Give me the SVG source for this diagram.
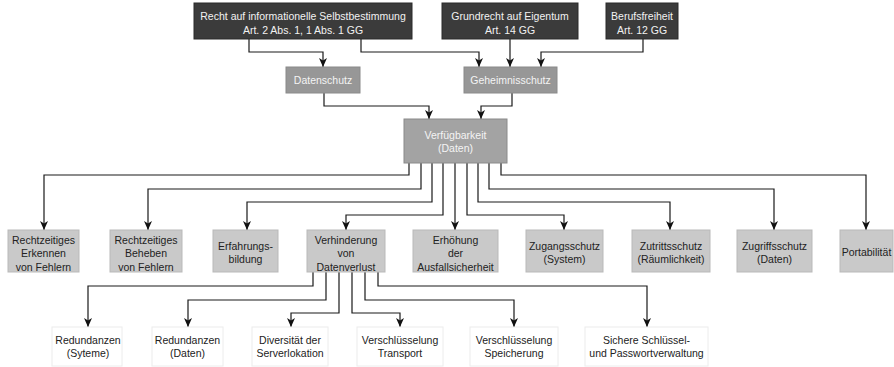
<svg xmlns="http://www.w3.org/2000/svg" width="894" height="367" viewBox="0 0 894 367">
<defs>
<marker id="ah" markerUnits="userSpaceOnUse" markerWidth="10" markerHeight="10" viewBox="0 0 10 10" refX="9" refY="5" orient="auto">
<path d="M0,1 L9,5 L0,9 L2.5,5 Z" fill="#111"/>
</marker>
<style>
text{font-family:"Liberation Sans",Arial,sans-serif;font-size:10.5px;text-anchor:middle;dominant-baseline:central}
.top rect{fill:#3b3b3b;stroke:#2a2a2a}
.top text{fill:#f2f2f2}
.mid rect{fill:#979797;stroke:#8a8a8a}
.mid text{fill:#f4f4f4}
.l2 rect{fill:#c9c9c9;stroke:#b9b9b9}
.l2 text{fill:#222}
.l3 rect{fill:#fff;stroke:#ececec}
.l3 text{fill:#222}
#connectors path{fill:none;stroke:#1a1a1a;stroke-width:1.2;marker-end:url(#ah)}
</style>
</defs>
<rect width="894" height="367" fill="#fff"/>
<g id="connectors">
<path d="M249,39 V52 H323 V67"/>
<path d="M361,39 V52 H479 V67"/>
<path d="M510,39 V67"/>
<path d="M643,39 V52 H541 V67"/>
<path d="M324,93 V106 H429 V119"/>
<path d="M512,93 V106 H481 V119"/>
<path d="M409,163 V175 H44 V230"/>
<path d="M421,163 V189 H148 V230"/>
<path d="M432,163 V202 H247 V230"/>
<path d="M443,163 V215 H346 V230"/>
<path d="M455,163 V230"/>
<path d="M467,163 V215 H564 V230"/>
<path d="M478,163 V202 H670 V230"/>
<path d="M489,163 V189 H774 V230"/>
<path d="M501,163 V175 H866 V230"/>
<path d="M313,272 V286 H88 V327"/>
<path d="M326,272 V300 H188 V327"/>
<path d="M339,272 V313 H291 V327"/>
<path d="M352,272 V313 H400 V327"/>
<path d="M365,272 V300 H514 V327"/>
<path d="M378,272 V286 H647 V327"/>
</g>
<g id="recht" class="top"><rect x="194" y="3" width="218" height="36"/><text x="303" y="16">Recht auf informationelle Selbstbestimmung</text><text x="303" y="30">Art. 2 Abs. 1, 1 Abs. 1 GG</text></g>
<g id="eigentum" class="top"><rect x="442" y="3" width="136" height="36"/><text x="510" y="16">Grundrecht auf Eigentum</text><text x="510" y="30">Art. 14 GG</text></g>
<g id="beruf" class="top"><rect x="606" y="3" width="72" height="36"/><text x="642" y="16">Berufsfreiheit</text><text x="642" y="30">Art. 12 GG</text></g>
<g id="datenschutz" class="mid"><rect x="286" y="67" width="74" height="26"/><text x="323" y="80">Datenschutz</text></g>
<g id="geheimnis" class="mid"><rect x="464" y="67" width="93" height="26"/><text x="510.5" y="80">Geheimnisschutz</text></g>
<g id="verfuegbarkeit" class="mid"><rect x="404" y="119" width="103" height="44" style="fill:#a3a3a3"/><text x="455.5" y="135">Verfügbarkeit</text><text x="455.5" y="148">(Daten)</text></g>
<g id="erkennen" class="l2"><rect x="8" y="230" width="71" height="42"/><text x="43.5" y="240">Rechtzeitiges</text><text x="43.5" y="253">Erkennen</text><text x="43.5" y="266.5">von Fehlern</text></g>
<g id="beheben" class="l2"><rect x="110" y="230" width="72" height="42"/><text x="146" y="240">Rechtzeitiges</text><text x="146" y="253">Beheben</text><text x="146" y="266.5">von Fehlern</text></g>
<g id="erfahrung" class="l2"><rect x="213" y="230" width="65" height="42"/><text x="245.5" y="246">Erfahrungs-</text><text x="245.5" y="259">bildung</text></g>
<g id="verhinderung" class="l2"><rect x="307" y="230" width="78" height="42"/><text x="346" y="240">Verhinderung</text><text x="346" y="253">von</text><text x="346" y="266.5">Datenverlust</text></g>
<g id="erhoehung" class="l2"><rect x="413" y="230" width="85" height="42"/><text x="455.5" y="240">Erhöhung</text><text x="455.5" y="253">der</text><text x="455.5" y="266.5">Ausfallsicherheit</text></g>
<g id="zugang" class="l2"><rect x="526" y="230" width="77" height="42"/><text x="564.5" y="246">Zugangsschutz</text><text x="564.5" y="259">(System)</text></g>
<g id="zutritt" class="l2"><rect x="632" y="230" width="78" height="42"/><text x="671" y="246">Zutrittsschutz</text><text x="671" y="259">(Räumlichkeit)</text></g>
<g id="zugriff" class="l2"><rect x="737" y="230" width="75" height="42"/><text x="774.5" y="246">Zugriffsschutz</text><text x="774.5" y="259">(Daten)</text></g>
<g id="portabilitaet" class="l2"><rect x="840" y="230" width="53" height="42"/><text x="866.5" y="252">Portabilität</text></g>
<g id="red-sys" class="l3"><rect x="52" y="327" width="70" height="39"/><text x="88" y="340">Redundanzen</text><text x="88" y="353">(Syteme)</text></g>
<g id="red-daten" class="l3"><rect x="152" y="327" width="71" height="39"/><text x="187.5" y="340">Redundanzen</text><text x="187.5" y="353">(Daten)</text></g>
<g id="diversitaet" class="l3"><rect x="252" y="327" width="76" height="39"/><text x="290" y="340">Diversität der</text><text x="290" y="353">Serverlokation</text></g>
<g id="transport" class="l3"><rect x="357" y="327" width="86" height="39"/><text x="400" y="340">Verschlüsselung</text><text x="400" y="353">Transport</text></g>
<g id="speicherung" class="l3"><rect x="470" y="327" width="88" height="39"/><text x="514" y="340">Verschlüsselung</text><text x="514" y="353">Speicherung</text></g>
<g id="schluessel" class="l3"><rect x="585" y="327" width="123" height="39"/><text x="646.5" y="340">Sichere Schlüssel-</text><text x="646.5" y="353">und Passwortverwaltung</text></g>
</svg>
